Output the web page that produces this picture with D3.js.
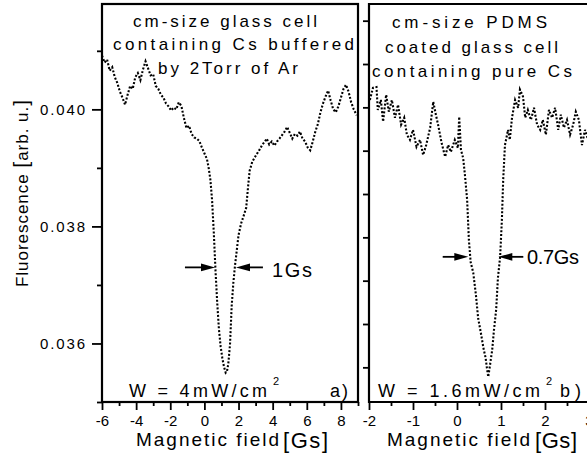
<!DOCTYPE html>
<html>
<head>
<meta charset="utf-8">
<script src="https://cdn.jsdelivr.net/npm/d3@7"></script>
<style>
  body { margin: 0; background: #fff; }
  svg { font-family: "Liberation Sans", Arial, sans-serif; }
</style>
</head>
<body>
<svg id="chart" width="587" height="457"></svg>
<script>
// a) glass cell, Cs buffered by 2 Torr Ar
var fieldA = [-6.00,-5.85,-5.70,-5.55,-5.40,-5.25,-5.10,-4.95,-4.80,-4.65,-4.50,-4.35,-4.20,-4.05,-3.90,-3.75,-3.60,-3.45,-3.30,-3.15,
  -3.00,-2.85,-2.70,-2.55,-2.40,-2.25,-2.10,-1.95,-1.80,-1.65,-1.50,-1.35,-1.20,-1.05,-0.90,-0.75,-0.60,-0.45,-0.30,-0.15,
  0.00,0.15,0.25,0.35,0.45,0.55,0.65,0.75,0.85,0.95,1.05,1.15,1.25,1.32,1.40,1.50,1.60,1.70,1.80,1.90,
  2.00,2.15,2.30,2.45,2.55,2.65,2.80,2.95,3.10,3.25,3.40,3.55,3.65,3.80,3.95,4.10,4.25,4.40,4.55,4.70,
  4.85,5.00,5.15,5.30,5.45,5.60,5.75,5.90,6.05,6.20,6.35,6.50,6.65,6.80,6.95,7.10,7.25,7.40,7.55,7.70,
  7.85,8.00,8.15,8.30,8.45,8.60,8.75,8.92];
var fluorA = [0.04092,0.04080,0.04085,0.04066,0.04072,0.04055,0.04045,0.04030,0.04020,0.04008,0.04025,0.04040,0.04035,0.04055,0.04062,0.04050,0.04068,0.04082,0.04070,0.04058,
  0.04060,0.04040,0.04035,0.04025,0.04020,0.04010,0.04005,0.03998,0.04003,0.04000,0.04012,0.04006,0.03985,0.03968,0.03972,0.03958,0.03952,0.03950,0.03946,0.03935,
  0.03925,0.03915,0.03900,0.03880,0.03845,0.03790,0.03725,0.03670,0.03625,0.03595,0.03575,0.03560,0.03550,0.03552,0.03565,0.03598,0.03665,0.03705,0.03735,0.03760,
  0.03785,0.03805,0.03818,0.03832,0.03865,0.03895,0.03910,0.03918,0.03925,0.03932,0.03940,0.03945,0.03950,0.03940,0.03945,0.03938,0.03945,0.03950,0.03956,0.03962,
  0.03970,0.03960,0.03950,0.03958,0.03955,0.03962,0.03950,0.03945,0.03935,0.03930,0.03945,0.03962,0.03975,0.03995,0.04010,0.04022,0.04032,0.04015,0.04000,0.03995,
  0.04005,0.04020,0.04035,0.04042,0.04030,0.04012,0.04000,0.03990];

// b) PDMS coated glass cell, pure Cs
var fieldB = [-1.98,-1.91,-1.83,-1.80,-1.73,-1.68,-1.61,-1.55,-1.48,-1.41,-1.34,-1.27,-1.20,-1.14,-1.07,-1.00,-0.92,-0.84,-0.77,-0.70,
  -0.61,-0.54,-0.48,-0.43,-0.35,-0.27,-0.20,-0.14,-0.05,0.02,0.05,0.09,0.14,0.18,0.23,0.27,0.31,0.37,0.43,0.48,
  0.55,0.60,0.65,0.68,0.71,0.75,0.80,0.84,0.89,0.93,0.98,1.02,1.05,1.09,1.16,1.20,1.25,1.32,1.39,1.43,
  1.50,1.55,1.61,1.68,1.75,1.82,1.89,1.95,2.02,2.09,2.16,2.23,2.30,2.36,2.43,2.50,2.57,2.64,2.70,2.77,
  2.84,2.91,2.98];
var fluorB = [0.04217,0.04245,0.04247,0.04194,0.04217,0.04167,0.04229,0.04190,0.04217,0.04176,0.04206,0.04160,0.04176,0.04137,0.04125,0.04148,0.04109,0.04125,0.04090,0.04113,
  0.04153,0.04213,0.04183,0.04160,0.04118,0.04086,0.04113,0.04097,0.04125,0.04106,0.04178,0.04102,0.04083,0.04044,0.03987,0.03894,0.03843,0.03818,0.03767,0.03714,
  0.03675,0.03645,0.03622,0.03598,0.03578,0.03605,0.03640,0.03686,0.03733,0.03806,0.03855,0.03940,0.04033,0.04113,0.04148,0.04125,0.04176,0.04217,0.04199,0.04241,
  0.04225,0.04176,0.04194,0.04171,0.04199,0.04160,0.04148,0.04171,0.04137,0.04194,0.04176,0.04199,0.04148,0.04183,0.04153,0.04171,0.04137,0.04160,0.04190,0.04171,
  0.04113,0.04148,0.04125];

var majorAx = [-6,-4,-2,0,2,4,6,8], minorAx = [-5,-3,-1,1,3,5,7,9];
var majorAy = [0.036,0.038,0.040], minorAy = [0.035,0.037,0.039,0.041];
var majorBx = [-2,-1,0,1,2,3], minorBx = [-1.5,-0.5,0.5,1.5,2.5];
var majorBy = [0.036,0.037,0.038,0.039,0.040,0.041,0.042,0.043,0.044];

var svg = d3.select("#chart");

var xA = d3.scaleLinear().domain([-6, 9]).range([102, 358]);
var yA = d3.scaleLinear().domain([0.035, 0.0418]).range([402, 4]);
var xB = d3.scaleLinear().domain([-2, 3]).range([369, 589]);
var yB = d3.scaleLinear().domain([0.0352, 0.044385]).range([402, 4]);

function styleAxis(g) {
    g.attr("font-family", null).attr("font-size", 15);
    g.select(".domain").remove();
    g.selectAll("line").attr("stroke", "#000").attr("stroke-width", 1.8);
    g.selectAll("text").attr("fill", "#000");
}

// ticks
svg.append("g").attr("transform", "translate(0,402)")
    .call(d3.axisBottom(xA).tickValues(majorAx).tickSize(8).tickPadding(5).tickFormat(function(d){ return String(d); }))
    .call(styleAxis);
svg.append("g").attr("transform", "translate(0,402)")
    .call(d3.axisBottom(xA).tickValues(minorAx).tickSize(4).tickFormat(""))
    .call(styleAxis);
svg.append("g").attr("transform", "translate(102,0)")
    .call(d3.axisLeft(yA).tickValues(majorAy).tickSize(10).tickPadding(7).tickFormat(d3.format(".3f")))
    .call(styleAxis)
    .selectAll("text").attr("textLength", 45);
svg.append("g").attr("transform", "translate(102,0)")
    .call(d3.axisLeft(yA).tickValues(minorAy).tickSize(5).tickFormat(""))
    .call(styleAxis);

svg.append("g").attr("transform", "translate(0,402)")
    .call(d3.axisBottom(xB).tickValues(majorBx).tickSize(8).tickPadding(5).tickFormat(function(d){ return String(d); }))
    .call(styleAxis);
svg.append("g").attr("transform", "translate(0,402)")
    .call(d3.axisBottom(xB).tickValues(minorBx).tickSize(4).tickFormat(""))
    .call(styleAxis);
svg.append("g").attr("transform", "translate(369,0)")
    .call(d3.axisLeft(yB).tickValues(majorBy).tickSize(6).tickFormat(""))
    .call(styleAxis);

// frames
svg.append("rect").attr("x", 102).attr("y", 4).attr("width", 256).attr("height", 398)
    .attr("fill", "none").attr("stroke", "#000").attr("stroke-width", 2.2);
svg.append("path").attr("d", "M587,4H369V402H587")
    .attr("fill", "none").attr("stroke", "#000").attr("stroke-width", 2.2);

// curves
var ptsA = fieldA.map(function(d, i){ return [d, fluorA[i]]; });
var ptsB = fieldB.map(function(d, i){ return [d, fluorB[i]]; });
svg.append("path").datum(ptsA)
    .attr("d", d3.line().x(function(d){ return xA(d[0]); }).y(function(d){ return yA(d[1]); }))
    .attr("fill", "none").attr("stroke", "#000").attr("stroke-width", 2.1).attr("stroke-dasharray", "2,1.8");
svg.append("path").datum(ptsB)
    .attr("d", d3.line().x(function(d){ return xB(d[0]); }).y(function(d){ return yB(d[1]); }))
    .attr("fill", "none").attr("stroke", "#000").attr("stroke-width", 2.1).attr("stroke-dasharray", "2,1.8");

// text helper
function label(txt, x, y, size, len) {
    var t = svg.append("text").attr("x", x).attr("y", y).attr("font-size", size).attr("fill", "#000").text(txt);
    if (len) t.attr("textLength", len).attr("lengthAdjust", "spacing");
    return t;
}

label("cm-size glass cell", 133, 26.5, 17, 184);
label("containing Cs  buffered", 113, 49.5, 17, 241);
label("by 2Torr of Ar", 158, 74, 17, 140);
label("cm-size PDMS", 392, 28, 17, 155);
label("coated glass cell", 385, 53, 17, 173);
label("containing pure Cs", 372, 77, 17, 200);

label("W = 4mW/cm", 129, 397, 18, 138);
label("2", 273, 385, 11);
label("a)", 330, 397, 18, 18);
label("W = 1.6mW/cm", 378, 397, 18, 162);
label("2", 546, 385, 11);
label("b)", 560, 397, 18, 21);

label("1Gs", 272, 277, 20, 40);
label("0.7Gs", 527, 263.5, 20, 52);

label("Magnetic field", 136, 446, 19, 143);
label("[Gs]", 283, 448, 22, 45);
label("Magnetic field", 387, 446, 19, 143);
label("[Gs]", 535, 448, 22, 42);

var yt = svg.append("text").attr("transform", "translate(28,287) rotate(-90)")
    .attr("font-size", 17).attr("fill", "#000").attr("textLength", 187).attr("lengthAdjust", "spacing");
yt.append("tspan").text("Fluorescence ");
yt.append("tspan").attr("font-size", 21).text("[");
yt.append("tspan").text("arb. u.");
yt.append("tspan").attr("font-size", 21).text("]");

// FWHM arrows
function arrow(x0, x1, y) {
    var dir = x1 > x0 ? 1 : -1;
    svg.append("line").attr("x1", x0).attr("x2", x1 - dir * 8).attr("y1", y).attr("y2", y)
        .attr("stroke", "#000").attr("stroke-width", 1.8);
    svg.append("path")
        .attr("d", "M" + x1 + "," + y + "L" + (x1 - dir * 14) + "," + (y - 3.8) + "L" + (x1 - dir * 14) + "," + (y + 3.8) + "Z")
        .attr("fill", "#000");
}
arrow(xA(-1.14), xA(0.62), yA(0.0373));
arrow(xA(3.43), xA(1.85), yA(0.0373));
arrow(xB(-0.325), xB(0.257), yB(0.03855));
arrow(xB(1.507), xB(0.939), yB(0.03855));
</script>
</body>
</html>
